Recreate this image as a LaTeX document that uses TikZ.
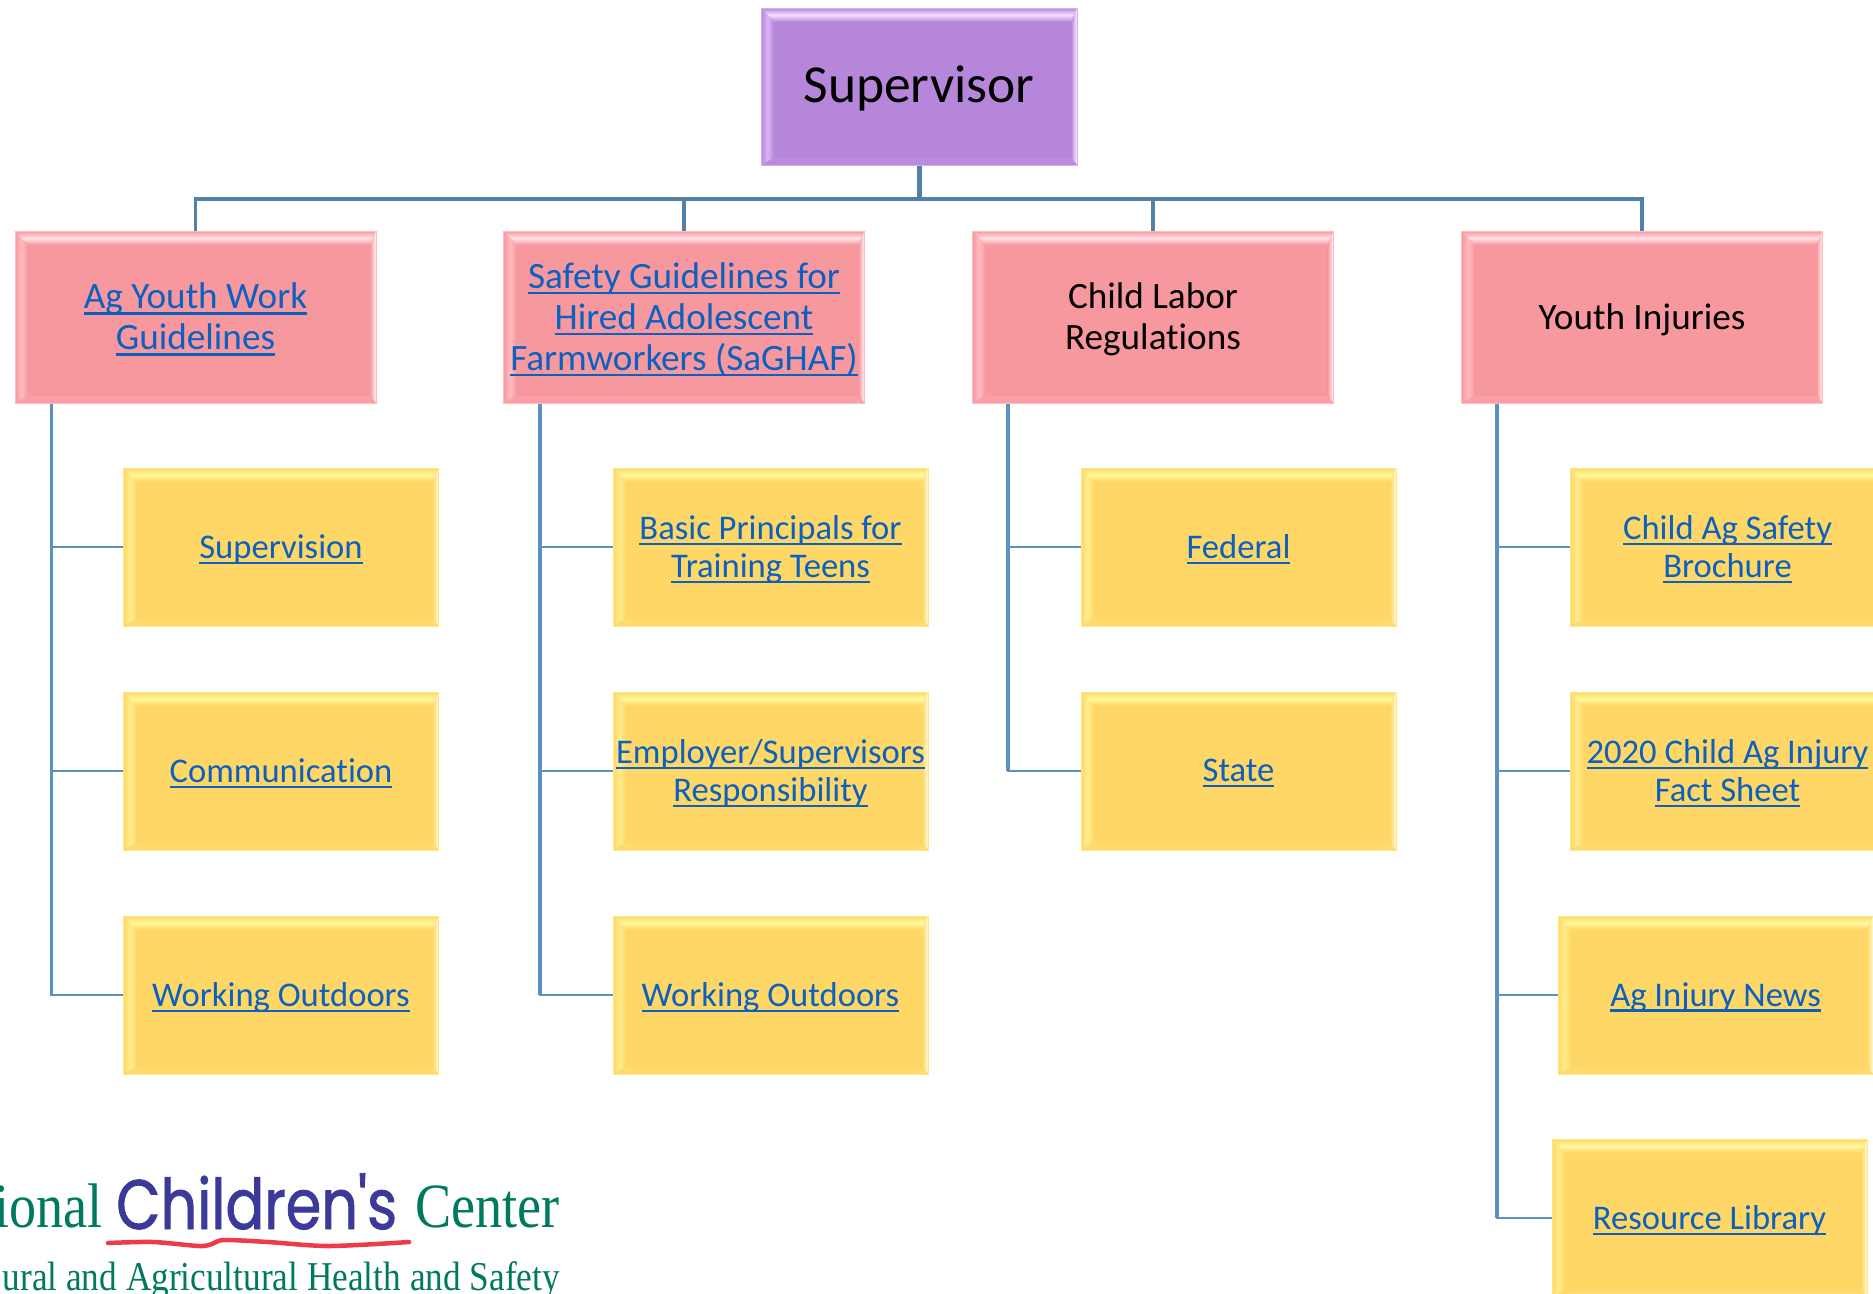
\documentclass[tikz,border=0pt]{standalone}
\usepackage{fontspec}
\setmainfont{Carlito}[Ligatures={NoCommon}]
\newfontfamily\logoserif[FakeStretch=0.86]{Liberation Serif}
\newfontfamily\logohand[FakeStretch=0.82,FakeBold=1.2]{Poppins}
\usetikzlibrary{calc}
\definecolor{linkblue}{HTML}{0B60C0}
\definecolor{connA}{HTML}{4F80A8}
\definecolor{connB}{HTML}{5A90C2}
\definecolor{logogreen}{HTML}{007A5E}
\definecolor{logoblue}{HTML}{3B3A98}
\definecolor{logored}{HTML}{EE3A4A}
\definecolor{pBase}{HTML}{B686DB}\definecolor{pTop}{HTML}{F4DCFF}\definecolor{pLeft}{HTML}{D8B4F4}\definecolor{pRight}{HTML}{FBF2FF}\definecolor{pBot}{HTML}{BA8CDD}
\definecolor{rBase}{HTML}{F7989F}\definecolor{rTop}{HTML}{FFE2E5}\definecolor{rLeft}{HTML}{FFBCC0}\definecolor{rRight}{HTML}{FFF6F7}\definecolor{rBot}{HTML}{F8A0A6}
\definecolor{yBase}{HTML}{FFD766}\definecolor{yTop}{HTML}{FFF89E}\definecolor{yLeft}{HTML}{FFEC8C}\definecolor{yRight}{HTML}{FFFBD6}\definecolor{yBot}{HTML}{FFDA6E}
\newsavebox\lkbox
\newcommand\tx[1]{\raisebox{-2.4pt}[\height][\depth]{#1}}
\newcommand\lk[1]{\sbox\lkbox{\color{linkblue}#1}\tx{\color{linkblue}\rlap{\rule[-0.16em]{\wd\lkbox}{0.07em}}\usebox\lkbox}}
\tikzset{
  bevel/.style n args={5}{draw=#2!50!#1, line width=1pt, fill=#1, inner sep=0pt, align=center, path picture={
    \coordinate (bnw) at (path picture bounding box.north west);
    \coordinate (bne) at (path picture bounding box.north east);
    \coordinate (bsw) at (path picture bounding box.south west);
    \coordinate (bse) at (path picture bounding box.south east);
    \coordinate (inw) at ($(bnw)+(13pt,-14pt)$);
    \coordinate (ine) at ($(bne)+(-6pt,-14pt)$);
    \coordinate (isw) at ($(bsw)+(13pt,7pt)$);
    \coordinate (ise) at ($(bse)+(-6pt,7pt)$);
    \shade[top color=#1, bottom color=#1, middle color=#2] (bnw) -- (bne) -- (ine) -- (inw) -- cycle;
    \shade[left color=#1, right color=#1, middle color=#3] (bnw) -- (inw) -- (isw) -- (bsw) -- cycle;
    \shade[left color=#1, right color=#4] (bne) -- (ine) -- (ise) -- (bse) -- cycle;
    \fill[#5] (bsw) -- (isw) -- (ise) -- (bse) -- cycle;
  }},
  topbox/.style={bevel={pBase}{pTop}{pLeft}{pRight}{pBot}, minimum width=316pt, minimum height=157pt, font=\fontsize{53.5}{60}\selectfont},
  midbox/.style={bevel={rBase}{rTop}{rLeft}{rRight}{rBot}, minimum width=361pt, minimum height=172pt, font=\fontsize{37.2}{41}\selectfont},
  leafbox/.style={bevel={yBase}{yTop}{yLeft}{yRight}{yBot}, minimum width=315pt, minimum height=158pt, font=\fontsize{34.6}{38}\selectfont},
  trunk/.style={draw=connA, line width=5pt},
  bus/.style={draw=connA, line width=3.2pt},
  branch/.style={draw=connB, line width=2.8pt},
  spine/.style={draw=connB, line width=3.8pt},
}
\begin{document}
\begin{tikzpicture}[x=1pt,y=-1pt]
\clip (0,0) rectangle (1873,1293);
\fill[white] (0,0) rectangle (1873,1293);

\coordinate (busc) at (919,199);
\node[topbox] (sup) at (919,86.5) {\tx{Supervisor}};
\node[midbox] (p1) at (195.5,317) {\lk{Ag Youth Work}\\\lk{Guidelines}};
\node[midbox] (p2) at (684,317) {\lk{Safety Guidelines for}\\\lk{Hired Adolescent}\\\lk{Farmworkers (SaGHAF)}};
\node[midbox] (p3) at (1153,317) {\tx{Child Labor}\\\tx{Regulations}};
\node[midbox] (p4) at (1642,317) {\tx{Youth Injuries}};

\node[leafbox] (a1) at (281,547) {\lk{Supervision}};
\node[leafbox] (a2) at (281,771) {\lk{Communication}};
\node[leafbox] (a3) at (281,995) {\lk{Working Outdoors}};

\node[leafbox] (b1) at (770.5,547) {\lk{Basic Principals for}\\\lk{Training Teens}};
\node[leafbox] (b2) at (770.5,771) {\lk{Employer/Supervisors}\\\lk{Responsibility}};
\node[leafbox] (b3) at (770.5,995) {\lk{Working Outdoors}};

\node[leafbox] (c1) at (1238.5,547) {\lk{Federal}};
\node[leafbox] (c2) at (1238.5,771) {\lk{State}};

\node[leafbox] (d1) at (1727.5,547) {\lk{Child Ag Safety}\\\lk{Brochure}};
\node[leafbox] (d2) at (1727.5,771) {\lk{2020 Child Ag Injury}\\\lk{Fact Sheet}};
\node[leafbox] (d3) at (1715.5,995) {\lk{Ag Injury News}};
\node[leafbox] (d4) at (1709.5,1218) {\lk{Resource Library}};

\coordinate (s1) at ($(p1.south west)+(37pt,0pt)$);
\coordinate (s2) at ($(p2.south west)+(37pt,0pt)$);
\coordinate (s3) at ($(p3.south west)+(36pt,0pt)$);
\coordinate (s4) at ($(p4.south west)+(36pt,0pt)$);

\draw[trunk] (sup.south) -- (busc);
\draw[bus] (busc) -| (p1.north);
\draw[bus] (busc) -| (p2.north);
\draw[bus] (busc) -| (p3.north);
\draw[bus] (busc) -| (p4.north);

\foreach \s/\t in {s1/a1,s1/a2,s1/a3,s2/b1,s2/b2,s2/b3,s3/c1,s3/c2,s4/d1,s4/d2,s4/d3,s4/d4}
  \draw[branch] (\s) |- (\t.west);
\foreach \s/\t in {s1/a3,s2/b3,s3/c2,s4/d4}
  \draw[spine] (\s) -- (\s |- \t.west);

\node[anchor=base east, inner sep=0pt, text=logogreen, font=\logoserif\fontsize{63}{63}\selectfont] (l1) at (103,1227) {ional};
\node[anchor=base west, inner sep=0pt, text=logoblue, font=\logohand\fontsize{70}{70}\selectfont] (l2) at (116,1229) {Children's};
\node[anchor=base east, inner sep=0pt, text=logogreen, font=\logoserif\fontsize{63}{63}\selectfont] (l3) at (560,1227) {Center};
\node[anchor=base east, inner sep=0pt, text=logogreen, font=\logoserif\fontsize{41}{41}\selectfont] (l4) at (560,1290) {ural and Agricultural Health and Safety};
\draw[logored, line width=4.5pt, line cap=round] plot[smooth] coordinates {(108,1243) (153,1242) (199,1246) (212,1244) (224,1240) (268,1242) (329,1246) (409,1242)};
\end{tikzpicture}
\end{document}
